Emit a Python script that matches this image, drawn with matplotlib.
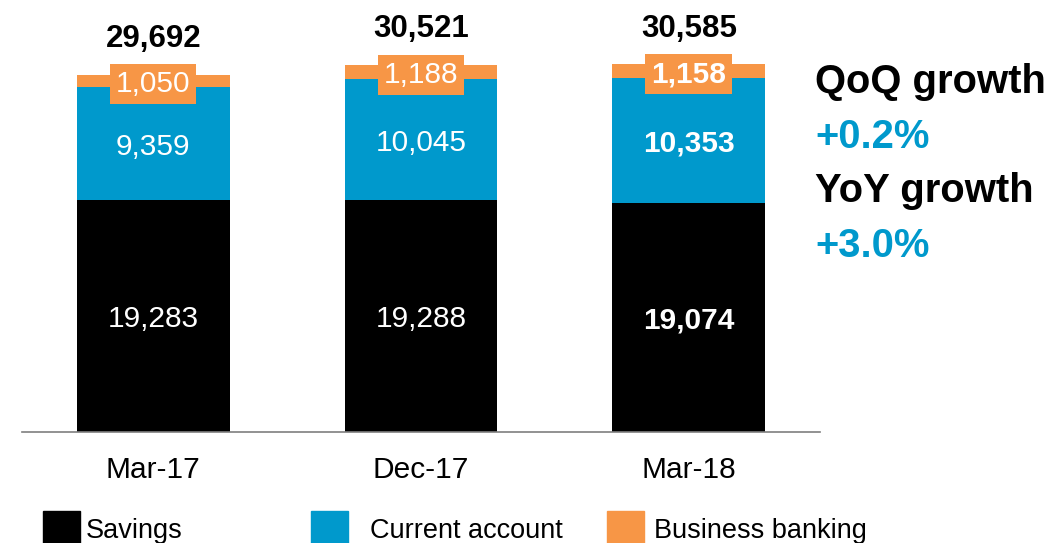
import numpy as np
import matplotlib
matplotlib.use("Agg")
import matplotlib.pyplot as plt
from matplotlib.patches import Rectangle

plt.rcParams["font.family"] = ["Liberation Sans", "DejaVu Sans"]

# Data
periods = ["Mar-17", "Dec-17", "Mar-18"]
savings = [19283, 19288, 19074]
current_account = [9359, 10045, 10353]
business_banking = [1050, 1188, 1158]
totals = [29692, 30521, 30585]
series_names = ["Savings", "Current account", "Business banking"]
growth_lines = [("QoQ growth", "+0.2%"), ("YoY growth", "+3.0%")]

BLACK = "#000000"
BLUE = "#0099CC"
ORANGE = "#F79646"

W, H = 1054, 543
fig = plt.figure(figsize=(W / 100, H / 100), dpi=100)
ax = fig.add_axes([22 / W, (H - 432) / H, (820 - 22) / W, 432 / H])

x = np.arange(len(periods))
width = 0.57
sav = np.array(savings)
cur = np.array(current_account)
bus = np.array(business_banking)

ax.bar(x, sav, width, color=BLACK)
ax.bar(x, cur, width, bottom=sav, color=BLUE)
ax.bar(x, bus, width, bottom=sav + cur, color=ORANGE)

ax.set_xlim(-0.49, 2.49)
ax.set_ylim(0, 35910)

for i in range(len(periods)):
    bold = "bold" if i == len(periods) - 1 else "normal"
    ax.text(x[i], sav[i] / 2, f"{savings[i]:,}", ha="center", va="center_baseline",
            color="white", fontsize=21.5, fontweight=bold)
    ax.text(x[i], sav[i] + cur[i] / 2, f"{current_account[i]:,}", ha="center",
            va="center_baseline", color="white", fontsize=21.5, fontweight=bold)
    ax.text(x[i], sav[i] + cur[i] + bus[i] / 2, f"{business_banking[i]:,}",
            ha="center", va="center_baseline", color="white", fontsize=21.5,
            fontweight=bold,
            bbox=dict(boxstyle="square,pad=0.2", fc=ORANGE, ec="none"))
    ax.annotate(f"{totals[i]:,}", (x[i], totals[i]), xytext=(0, 28),
                textcoords="offset points", ha="center", va="center_baseline",
                fontsize=22.5, fontweight="bold", color=BLACK)

ax.set_xticks(x)
ax.set_xticklabels(periods, fontsize=21.5)
ax.tick_params(axis="x", length=0, pad=17)
ax.set_yticks([])
for side in ["left", "right", "top"]:
    ax.spines[side].set_visible(False)
ax.spines["bottom"].set_color("#7f7f7f")
ax.spines["bottom"].set_linewidth(1.2)

# Growth call-outs on the right
ys = [78, 133, 187, 242]
k = 0
for label, value in growth_lines:
    fig.text(815 / W, 1 - ys[k] / H, label, fontsize=28.8, fontweight="bold",
             color=BLACK, va="center_baseline", ha="left")
    fig.text(815 / W, 1 - ys[k + 1] / H, value, fontsize=28.8, fontweight="bold",
             color=BLUE, va="center_baseline", ha="left")
    k += 2

# Legend along the bottom
sq_x = [43, 311, 607]
txt_x = [86, 370, 654]
for name, col, sx, tx in zip(series_names, [BLACK, BLUE, ORANGE], sq_x, txt_x):
    fig.add_artist(Rectangle((sx / W, -5 / H), 37 / W, 37 / H,
                             transform=fig.transFigure, color=col))
    fig.text(tx / W, 5 / H, name, fontsize=19.5, color=BLACK, va="baseline", ha="left")

fig.savefig("out.png", dpi=100)
